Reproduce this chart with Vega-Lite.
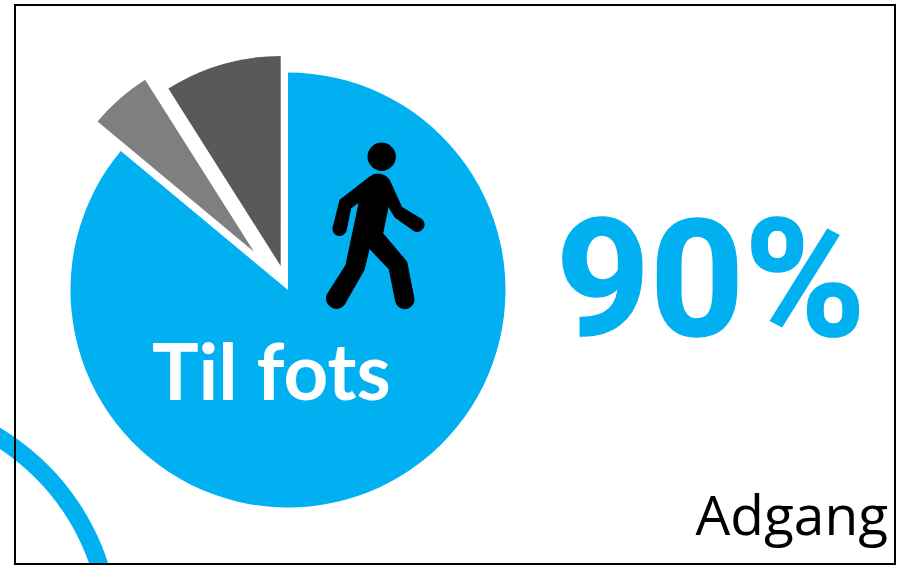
{
  "$schema": "https://vega.github.io/schema/vega-lite/v6.json",
  "width": 880,
  "height": 559,
  "padding": {"left": 15, "top": 5, "right": 2, "bottom": 1},
  "autosize": "none",
  "background": "white",
  "config": {"view": {"stroke": null}, "axis": {"disable": true}},
  "datasets": {
    "modes": [
      {"mode": "Til fots", "share": 90, "rank": 1},
      {"mode": "Annet 1", "share": 5.2, "rank": 2},
      {"mode": "Annet 2", "share": 9.4, "rank": 3}
    ],
    "one": [{"note": "annotation"}]
  },
  "layer": [
    {
      "data": {"name": "one"},
      "mark": {"type": "arc", "radius": 246, "radius2": 228, "color": "#00b0f0", "clip": false},
      "encoding": {
        "x": {"datum": -141, "type": "quantitative", "scale": {"domain": [0, 880], "nice": false, "zero": false}},
        "y": {"datum": 634, "type": "quantitative", "scale": {"domain": [559, 0], "nice": false, "zero": false}}
      }
    },
    {
      "data": {"name": "modes"},
      "transform": [
        {"stack": "share", "sort": [{"field": "rank"}], "as": ["s0", "s1"]},
        {"filter": "datum.rank === 1"}
      ],
      "mark": {"type": "arc", "radius": 217.5, "color": "#00b0f0"},
      "encoding": {
        "x": {"datum": 273, "type": "quantitative"},
        "y": {"datum": 285, "type": "quantitative"},
        "theta": {"field": "s0", "type": "quantitative", "scale": {"domain": [0, 104.6]}},
        "theta2": {"field": "s1"}
      }
    },
    {
      "data": {"name": "modes"},
      "transform": [
        {"stack": "share", "sort": [{"field": "rank"}], "as": ["s0", "s1"]},
        {"filter": "datum.rank === 2"}
      ],
      "mark": {"type": "arc", "radius": 203.5, "color": "#7f7f7f"},
      "encoding": {
        "x": {"datum": 239, "type": "quantitative"},
        "y": {"datum": 246.7, "type": "quantitative"},
        "theta": {"field": "s0", "type": "quantitative", "scale": {"domain": [0, 104.6]}},
        "theta2": {"field": "s1"}
      }
    },
    {
      "data": {"name": "modes"},
      "transform": [
        {"stack": "share", "sort": [{"field": "rank"}], "as": ["s0", "s1"]},
        {"filter": "datum.rank === 3"}
      ],
      "mark": {"type": "arc", "radius": 210, "color": "#595959"},
      "encoding": {
        "x": {"datum": 265.7, "type": "quantitative"},
        "y": {"datum": 261, "type": "quantitative"},
        "theta": {"field": "s0", "type": "quantitative", "scale": {"domain": [0, 104.6]}},
        "theta2": {"field": "s1"}
      }
    },
    {
      "data": {"name": "one"},
      "mark": {
        "type": "point",
        "filled": true,
        "color": "black",
        "stroke": "black",
        "strokeWidth": 1,
        "opacity": 1,
        "size": 40000,
        "shape": "M-0.07,-0.683A0.137,0.137,0,1,1,0.204,-0.683A0.137,0.137,0,1,1,-0.07,-0.683ZM0.033,-0.51Q0.11,-0.503,0.143,-0.45L0.267,-0.177L0.47,-0.055A0.07,0.07,0,0,1,0.395,0.06L0.2,-0.077L0.133,-0.19L0.077,0.083L0.317,0.367L0.39,0.74A0.093,0.093,0,0,1,0.207,0.767L0.143,0.443L-0.057,0.233L-0.11,0.45L-0.31,0.8A0.1,0.1,0,0,1,-0.475,0.69L-0.29,0.4L-0.157,-0.233L-0.243,-0.167L-0.29,0.06A0.067,0.067,0,0,1,-0.42,0.03L-0.35,-0.25L-0.05,-0.483Q-0.017,-0.51,0.033,-0.51Z"
      },
      "encoding": {
        "x": {"datum": 360, "type": "quantitative"},
        "y": {"datum": 220, "type": "quantitative"}
      }
    },
    {
      "data": {"name": "modes"},
      "transform": [{"filter": "datum.rank === 1"}],
      "mark": {"type": "text", "font": "Lato", "fontWeight": "bold", "fontSize": 78, "color": "white", "align": "left", "baseline": "alphabetic"},
      "encoding": {
        "x": {"datum": 137, "type": "quantitative"},
        "y": {"datum": 395, "type": "quantitative"},
        "text": {"field": "mode"}
      }
    },
    {
      "data": {"name": "modes"},
      "transform": [
        {"filter": "datum.rank === 1"},
        {"calculate": "datum.share + '%'", "as": "label"}
      ],
      "mark": {"type": "text", "font": "Roboto", "fontWeight": "bold", "fontSize": 164, "color": "#00b0f0", "stroke": "#00b0f0", "strokeWidth": 1.5, "align": "left", "baseline": "alphabetic"},
      "encoding": {
        "x": {"datum": 541, "type": "quantitative"},
        "y": {"datum": 330, "type": "quantitative"},
        "text": {"field": "label"}
      }
    },
    {
      "data": {"values": [{"heading": "Adgang"}]},
      "mark": {"type": "text", "font": "Open Sans", "fontSize": 55, "color": "black", "align": "right", "baseline": "alphabetic"},
      "encoding": {
        "x": {"datum": 873, "type": "quantitative"},
        "y": {"datum": 530, "type": "quantitative"},
        "text": {"field": "heading"}
      }
    },
    {
      "data": {"name": "one"},
      "mark": {"type": "rect", "fill": null, "stroke": "black", "strokeWidth": 2, "clip": false},
      "encoding": {
        "x": {"datum": 0, "type": "quantitative"},
        "x2": {"datum": 880},
        "y": {"datum": 0, "type": "quantitative"},
        "y2": {"datum": 559}
      }
    }
  ]
}
